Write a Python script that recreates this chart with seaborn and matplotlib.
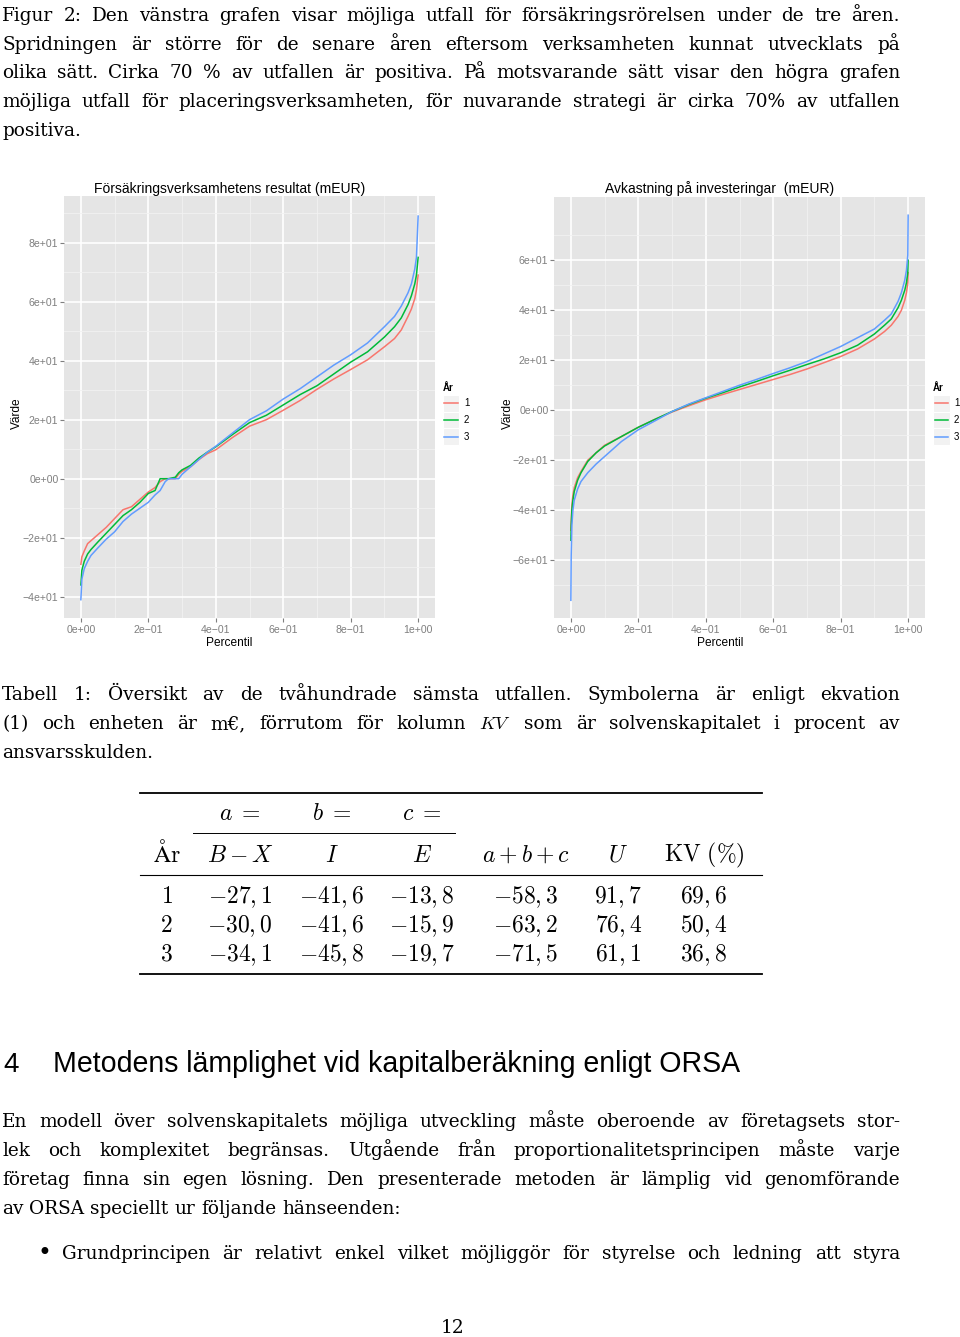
import numpy as np
import pandas as pd
import matplotlib
matplotlib.use("Agg")
import matplotlib.pyplot as plt
import seaborn as sns
from matplotlib.lines import Line2D
from matplotlib.patches import Rectangle

# ---------------- data ----------------
years = ["1", "2", "3"]
colors = ["#F8766D", "#00BA38", "#619CFF"]

left_p = [0.0, 0.003, 0.01, 0.02, 0.03, 0.05, 0.075, 0.1, 0.125, 0.15, 0.175, 0.2,
          0.22, 0.235, 0.25, 0.26, 0.28, 0.29, 0.3, 0.325, 0.35, 0.375, 0.4, 0.45,
          0.5, 0.55, 0.6, 0.65, 0.7, 0.75, 0.8, 0.85, 0.9, 0.93, 0.95, 0.97, 0.98,
          0.99, 0.995, 1.0]
left_y1 = [-29, -26.5, -24.5, -22, -21, -19, -16.5, -13.5, -10.5, -9.5, -7, -4.5,
           -3, -1, 0, 0, 0, 1.5, 2.5, 4, 6.5, 8.5, 9.8, 14,
           17.8, 20, 23.2, 26.5, 30.3, 33.8, 37, 40.3, 44.7, 47.5, 50.4, 55, 57.5,
           61, 64, 69]
left_y2 = [-36, -31, -28, -25.5, -24, -21.5, -18.5, -15.5, -12.5, -10.5, -8, -5,
           -4, 0, 0, 0, 0.5, 2, 3, 4.5, 7, 9, 10.8, 15,
           19, 21.5, 25, 28.5, 31.5, 35.5, 39.5, 43, 48, 51.5, 54.5, 59, 62,
           66, 69, 75]
left_y3 = [-41, -34, -30.5, -28, -26, -23.5, -20.5, -18, -14.5, -12, -10, -8,
           -5.5, -4, -1, 0, 0, 0, 1.5, 4, 6.5, 9, 11, 15.5,
           20, 23, 27, 30.5, 34.5, 38.5, 42, 46, 51.5, 55, 58.5, 63, 66,
           71, 75, 89]

right_p = [0.0, 0.001, 0.003, 0.006, 0.01, 0.02, 0.03, 0.05, 0.075, 0.1, 0.15, 0.2,
           0.25, 0.3, 0.35, 0.4, 0.45, 0.5, 0.55, 0.6, 0.65, 0.7, 0.75, 0.8, 0.85,
           0.9, 0.93, 0.95, 0.97, 0.98, 0.99, 0.995, 0.999, 1.0]
right_y1 = [-48, -44, -38, -34, -31, -27, -24.5, -20, -17, -14, -10.5, -6.8,
            -3.6, -0.7, 1.8, 4.2, 6.3, 8.3, 10.3, 12.3, 14.3, 16.5, 19, 21.5, 24.5,
            28.5, 31.5, 34, 37.5, 40, 44, 47, 51, 55]
right_y2 = [-52, -46, -40, -36, -32.5, -28, -25, -20.5, -17, -14.3, -10.5, -6.8,
            -3.6, -0.5, 2.3, 4.8, 7.0, 9.3, 11.5, 13.8, 16, 18.3, 20.5, 23, 26,
            30.5, 34, 36.5, 41, 44, 48, 51, 55, 60]
right_y3 = [-76, -58, -46, -40, -36, -31.5, -28.5, -25, -21.5, -18.5, -12.5, -7.8,
            -4.2, -0.5, 2.5, 5.0, 7.5, 10, 12.3, 14.7, 17, 19.5, 22.5, 25.5, 29,
            32.5, 36, 38.5, 43.5, 47, 52, 56, 62, 78]

xtick_vals = [0.0, 0.2, 0.4, 0.6, 0.8, 1.0]
xtick_labels = ["0e+00", "2e\u221201", "4e\u221201", "6e\u221201", "8e\u221201", "1e+00"]
left_ytick_vals = [-40, -20, 0, 20, 40, 60, 80]
left_ytick_labels = ["\u22124e+01", "\u22122e+01", "0e+00", "2e+01", "4e+01", "6e+01", "8e+01"]
right_ytick_vals = [-60, -40, -20, 0, 20, 40, 60]
right_ytick_labels = ["\u22126e+01", "\u22124e+01", "\u22122e+01", "0e+00", "2e+01", "4e+01", "6e+01"]

left_title = "Försäkringsverksamhetens resultat (mEUR)"
right_title = "Avkastning på investeringar  (mEUR)"
x_label = "Percentil"
y_label = "Värde"
legend_title = "År"

caption_lines = [
    "Figur 2: Den vänstra grafen visar möjliga utfall för försäkringsrörelsen under de tre åren.",
    "Spridningen är större för de senare åren eftersom verksamheten kunnat utvecklats på",
    "olika sätt. Cirka 70 % av utfallen är positiva. På motsvarande sätt visar den högra grafen",
    "möjliga utfall för placeringsverksamheten, för nuvarande strategi är cirka 70% av utfallen",
    "positiva.",
]
table_caption_lines = [
    "Tabell 1: Översikt av de tvåhundrade sämsta utfallen. Symbolerna är enligt ekvation",
    "(1) och enheten är m€, förrutom för kolumn $KV$ som är solvenskapitalet i procent av",
    "ansvarsskulden.",
]
table_head1 = ["", "$a\\;=$", "$b\\;=$", "$c\\;=$", "", "", ""]
table_head2 = ["$\\mathrm{År}$", "$B-X$", "$I$", "$E$", "$a+b+c$", "$U$", "$\\mathrm{KV}\\ (\\%)$"]
table_years = [1, 2, 3]
col_BX = [-27.1, -30.0, -34.1]
col_I = [-41.6, -41.6, -45.8]
col_E = [-13.8, -15.9, -19.7]
col_sum = [-58.3, -63.2, -71.5]
col_U = [91.7, 76.4, 61.1]
col_KV = [69.6, 50.4, 36.8]

section_num = "4"
section_title = "Metodens lämplighet vid kapitalberäkning enligt ORSA"
para_lines = [
    "En modell över solvenskapitalets möjliga utveckling måste oberoende av företagsets stor-",
    "lek och komplexitet begränsas. Utgående från proportionalitetsprincipen måste varje",
    "företag finna sin egen lösning. Den presenterade metoden är lämplig vid genomförande",
    "av ORSA speciellt ur följande hänseenden:",
]
bullet_line = "Grundprincipen är relativt enkel vilket möjliggör för styrelse och ledning att styra"
page_number = "12"

# ---------------- figure ----------------
plt.rcParams["mathtext.fontset"] = "cm"
W, H = 960, 1337
fig = plt.figure(figsize=(W / 100, H / 100), dpi=100)
fig.patch.set_facecolor("white")
renderer = fig.canvas.get_renderer()


def fx(x):
    return x / W


def fy(y):
    return 1 - y / H


SERIF = "DejaVu Serif"


def tw(s, **kw):
    t = fig.text(0, 0, s, **kw)
    w = t.get_window_extent(renderer).width
    t.remove()
    return w


# choose body size so the tightest justified line still fits
base_size = 13.3
just_lines = [(l, 898) for l in caption_lines[:-1]] + \
             [(l, 898) for l in table_caption_lines[:-1]] + \
             [(l, 898) for l in para_lines[:-1]] + [(bullet_line, 838)]
ratio = min((tgt - 4) / tw(l, family=SERIF, size=base_size) for l, tgt in just_lines)
body_size = base_size * min(1.0, ratio)
BODY = dict(family=SERIF, size=body_size, color="black")


def place_line(s, x0, x1, yb, justify=True, **kw):
    words = s.split(" ")
    arts = [fig.text(0, 0, w, ha="left", va="baseline", **kw) for w in words]
    widths = [a.get_window_extent(renderer).width for a in arts]
    if justify and len(words) > 1:
        gap = (x1 - x0 - sum(widths)) / (len(words) - 1)
    else:
        gap = tw("a a", **kw) - tw("aa", **kw)
    x = x0
    for a, w in zip(arts, widths):
        a.set_position((fx(x), fy(yb)))
        x += w + gap


# caption
cap_base = [20.7, 49.5, 78.3, 107.1, 136.3]
for i, (line, yb) in enumerate(zip(caption_lines, cap_base)):
    place_line(line, 2, 900, yb, justify=(i < len(caption_lines) - 1), **BODY)

# ---------------- charts ----------------
def make_df(p, ys):
    rows = []
    for yr, yv in zip(years, ys):
        rows.append(pd.DataFrame({"Percentil": p, "Värde": yv, "År": yr}))
    return pd.concat(rows, ignore_index=True)


df_left = make_df(left_p, [left_y1, left_y2, left_y3])
df_right = make_df(right_p, [right_y1, right_y2, right_y3])
palette = dict(zip(years, colors))

TICKC = "#7F7F7F"
SANS = "Liberation Sans"


def style_axis(ax, ylim, yt, ytl, yminor):
    ax.set_facecolor("#E5E5E5")
    ax.set_xlim(-0.05, 1.05)
    ax.set_ylim(*ylim)
    ax.set_xticks(xtick_vals)
    ax.set_xticklabels(xtick_labels)
    ax.set_yticks(yt)
    ax.set_yticklabels(ytl)
    ax.set_xticks([0.1, 0.3, 0.5, 0.7, 0.9], minor=True)
    ax.set_yticks(yminor, minor=True)
    ax.grid(which="major", color="white", linewidth=1.2)
    ax.grid(which="minor", color="#F2F2F2", linewidth=0.6)
    ax.set_axisbelow(True)
    for s in ax.spines.values():
        s.set_visible(False)
    ax.tick_params(which="minor", length=0)
    ax.tick_params(axis="both", which="major", color=TICKC, length=3, width=0.8,
                   labelcolor=TICKC, labelsize=7.6)
    ax.tick_params(axis="y", pad=1)
    ax.tick_params(axis="x", pad=1.5)
    for lab in ax.get_xticklabels() + ax.get_yticklabels():
        lab.set_family(SANS)
    ax.set_xlabel("")
    ax.set_ylabel("")


ax1 = fig.add_axes([fx(64), fy(618.3), (435 - 64) / W, (618.3 - 196) / H])
sns.lineplot(data=df_left, x="Percentil", y="Värde", hue="År", palette=palette,
             ax=ax1, legend=False, linewidth=1.1, estimator=None, sort=False)
style_axis(ax1, (-47.3, 95.8), left_ytick_vals, left_ytick_labels,
           [-30, -10, 10, 30, 50, 70, 90])

ax2 = fig.add_axes([fx(554), fy(618.3), (925 - 554) / W, (618.3 - 196.7) / H])
sns.lineplot(data=df_right, x="Percentil", y="Värde", hue="År", palette=palette,
             ax=ax2, legend=False, linewidth=1.1, estimator=None, sort=False)
style_axis(ax2, (-83.2, 85.4), right_ytick_vals, right_ytick_labels,
           [-70, -50, -30, -10, 10, 30, 50, 70])

for cx, title, ylx, legx, labx in [(229.5, left_title, 17, 442.7, 464),
                                   (720, right_title, 508, 933.3, 954)]:
    fig.text(fx(cx), fy(192.7), title, ha="center", va="baseline",
             family=SANS, size=10, color="black")
    fig.text(fx(cx), fy(645.5), x_label, ha="center", va="baseline",
             family=SANS, size=8.6, color="black")
    fig.text(fx(ylx), fy(413), y_label, ha="center", va="center", rotation=90,
             family=SANS, size=8.6, color="black")
    # legend
    fig.text(fx(legx), fy(390.7), legend_title, ha="left", va="baseline",
             family=SANS, size=7, weight="bold", color="black")
    for k, (yr, c) in enumerate(zip(years, colors)):
        cy = 403.3 + k * 16.7
        fig.add_artist(Rectangle((fx(legx), fy(cy + 8.3)), 16.6 / W, 16.6 / H,
                                 transform=fig.transFigure, facecolor="#F2F2F2",
                                 edgecolor="white", linewidth=0.8))
        fig.add_artist(Line2D([fx(legx + 1.5), fx(legx + 15)], [fy(cy), fy(cy)],
                              transform=fig.transFigure, color=c, linewidth=1.1))
        fig.text(fx(labx), fy(cy), yr, ha="left", va="center",
                 family=SANS, size=7, color="black")

# ---------------- table caption ----------------
tcap_base = [700.3, 729.2, 758.3]
for i, (line, yb) in enumerate(zip(table_caption_lines, tcap_base)):
    place_line(line, 2, 900, yb, justify=(i < len(table_caption_lines) - 1), **BODY)

# ---------------- table ----------------
def hline(x0, x1, y, lw):
    fig.add_artist(Line2D([fx(x0), fx(x1)], [fy(y), fy(y)],
                          transform=fig.transFigure, color="black", linewidth=lw))


hline(140, 762, 793.3, 1.3)
hline(193, 455, 833.3, 0.7)
hline(140, 762, 875, 0.8)
hline(140, 762, 974, 1.3)

col_x = [166.7, 240, 331.7, 421.7, 525.8, 618.3, 704]
TSIZE = 17
for x, s in zip(col_x, table_head1):
    if s:
        fig.text(fx(x), fy(820), s, ha="center", va="baseline", size=TSIZE)
for x, s in zip(col_x, table_head2):
    fig.text(fx(x), fy(861.7), s, ha="center", va="baseline", size=TSIZE)


def fmt(v):
    return "$" + f"{v:.1f}".replace(".", ",") + "$"


row_base = [903.3, 932.0, 960.7]
for r, yb in enumerate(row_base):
    cells = ["$" + str(table_years[r]) + "$", fmt(col_BX[r]), fmt(col_I[r]),
             fmt(col_E[r]), fmt(col_sum[r]), fmt(col_U[r]), fmt(col_KV[r])]
    for x, s in zip(col_x, cells):
        fig.text(fx(x), fy(yb), s, ha="center", va="baseline", size=TSIZE)

# ---------------- section heading ----------------
HEAD = dict(family="Liberation Sans", color="black")
fig.text(fx(3), fy(1071.7), section_num, ha="left", va="baseline", size=20, **HEAD)
t = fig.text(fx(53.3), fy(1071.7), section_title, ha="left", va="baseline", size=20, **HEAD)
wnow = t.get_window_extent(renderer).width
t.set_size(20 * (740 - 53.3) / wnow)

# ---------------- paragraph ----------------
para_base = [1127.3, 1156.2, 1185.1, 1214.0]
for i, (line, yb) in enumerate(zip(para_lines, para_base)):
    place_line(line, 2, 900, yb, justify=(i < len(para_lines) - 1), **BODY)

fig.text(fx(44), fy(1254), "\u2022", ha="center", va="center",
         family="DejaVu Serif", size=17, color="black")
place_line(bullet_line, 61.7, 900, 1259.3, justify=True, **BODY)

fig.text(fx(452.5), fy(1332.7), page_number, ha="center", va="baseline", **BODY)

fig.savefig("out.png", dpi=100)
